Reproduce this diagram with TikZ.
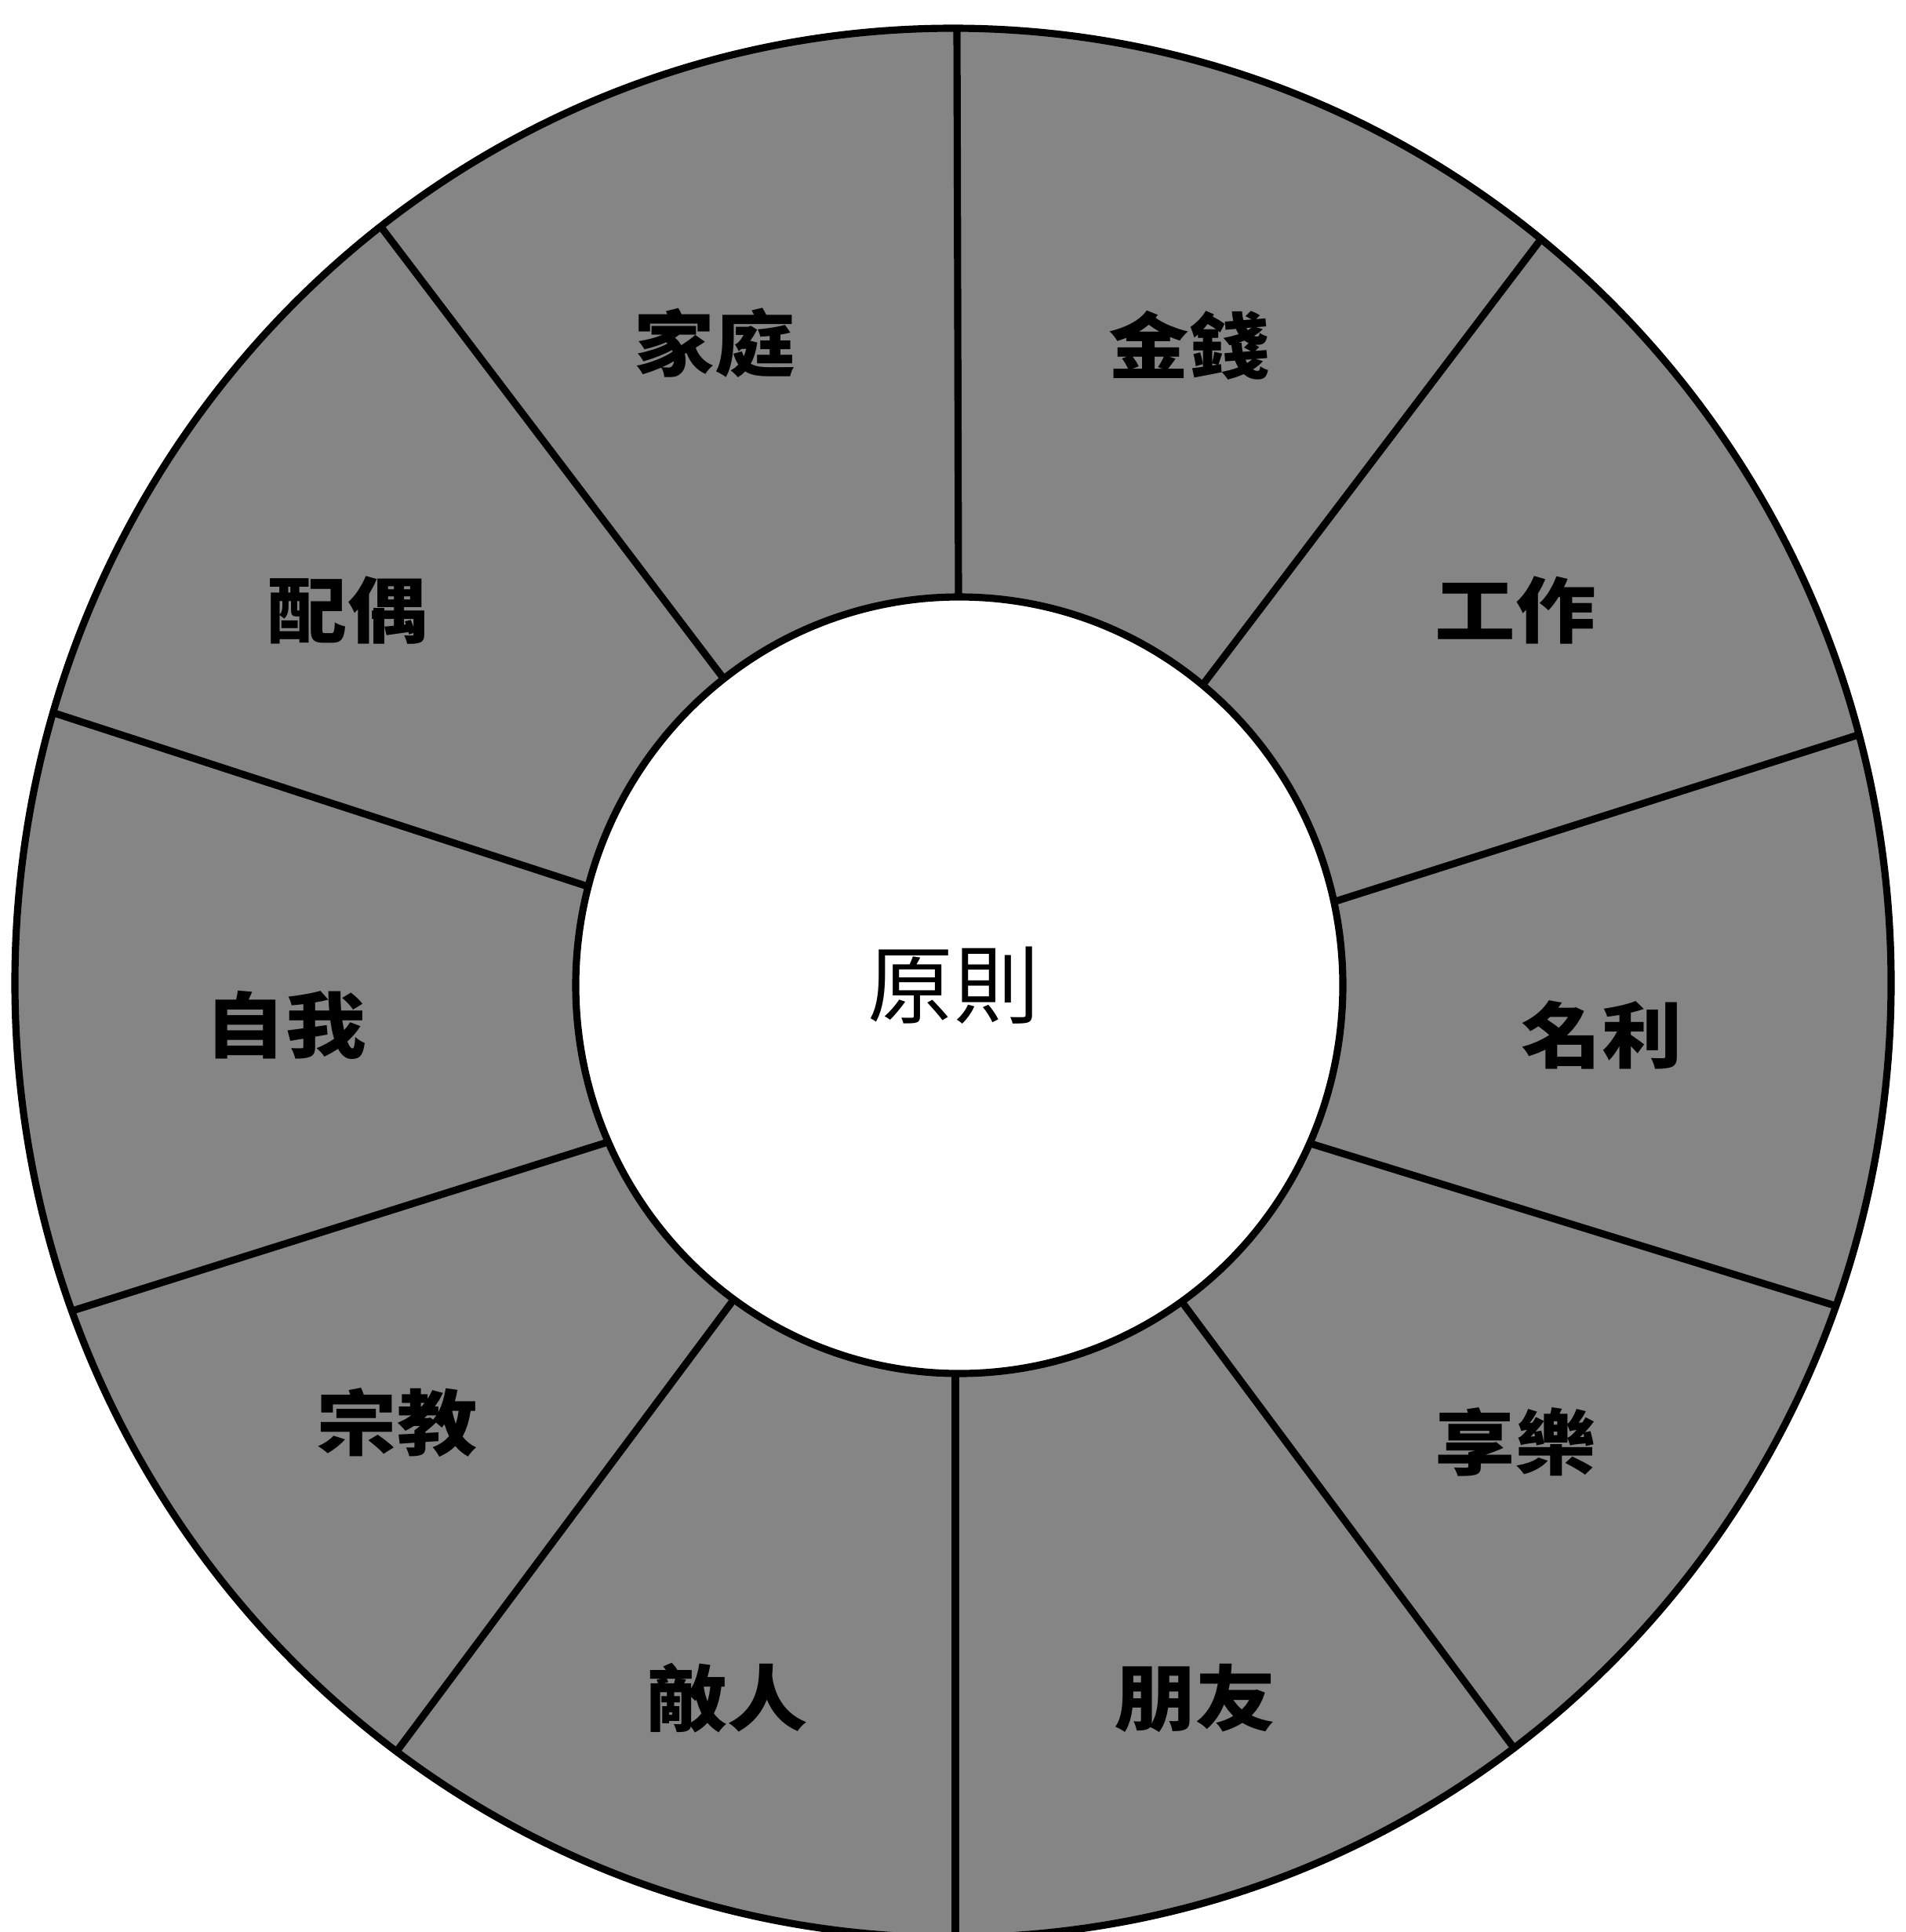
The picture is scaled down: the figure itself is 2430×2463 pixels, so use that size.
\documentclass[tikz,border=0pt]{standalone}
\usepackage{fontspec}
\newfontfamily\cjk{Noto Sans CJK TC}
\newfontfamily\cjkw[FakeStretch=1.12]{Noto Sans CJK TC}
\usetikzlibrary{calc}
\begin{document}
\begin{tikzpicture}[x=0.01cm,y=-0.01cm,
  ringfill/.style={fill=black!48},
  divider/.style={line width=2.6pt},
  rim/.style={line width=2.6pt},
  lab/.style={font=\cjkw\bfseries\fontsize{26pt}{26pt}\selectfont, inner sep=0pt},
  hub/.style={font=\cjk\fontsize{31pt}{31pt}\selectfont, inner sep=0pt}]
\useasboundingbox (0,0) rectangle (2430,2463);
\clip (0,0) rectangle (2430,2463);
\coordinate (oc) at (1215,1253);
\coordinate (ic) at (1223,1256);
\fill[ringfill] (oc) ellipse [x radius=1196, y radius=1217];
\begin{scope}
  \clip (oc) ellipse [x radius=1196, y radius=1217];
  \coordinate (i1) at (1222,762);  \coordinate (o1) at (1220,36);
  \coordinate (i2) at (1541,863);  \coordinate (o2) at (1963,307);
  \coordinate (i3) at (1709,1147); \coordinate (o3) at (2375,935);
  \coordinate (i4) at (1681,1461); \coordinate (o4) at (2351,1668);
  \coordinate (i5) at (1513,1668); \coordinate (o5) at (1929,2227);
  \coordinate (i6) at (1218,1752); \coordinate (o6) at (1218,2463);
  \coordinate (i7) at (927,1668);  \coordinate (o7) at (510,2227);
  \coordinate (i8) at (759,1461);  \coordinate (o8) at (86,1673);
  \coordinate (i9) at (743,1128);  \coordinate (o9) at (66,908);
  \coordinate (i10) at (921,863);  \coordinate (o10) at (487,291);
  \foreach \k in {1,...,10}
    \draw[divider] ($(i\k)!-0.05!(o\k)$) -- ($(i\k)!1.08!(o\k)$);
\end{scope}
\draw[rim, fill=white] (ic) ellipse [x radius=489, y radius=495];
\draw[rim] (oc) ellipse [x radius=1196, y radius=1217];
\node[hub] (center) at (1216,1256) {原則};
\node[lab] (money)   at (1516,440)  {金錢};
\node[lab] (work)    at (1932,778)  {工作};
\node[lab] (fame)    at (2042,1319) {名利};
\node[lab] (pleas)   at (1932,1838) {享樂};
\node[lab] (friend)  at (1524,2165) {朋友};
\node[lab] (enemy)   at (927,2165)  {敵人};
\node[lab] (relig)   at (506,1814)  {宗教};
\node[lab] (self)    at (364,1307)  {自我};
\node[lab] (spouse)  at (443,778)   {配偶};
\node[lab] (family)  at (911,437)   {家庭};
\end{tikzpicture}
\end{document}
